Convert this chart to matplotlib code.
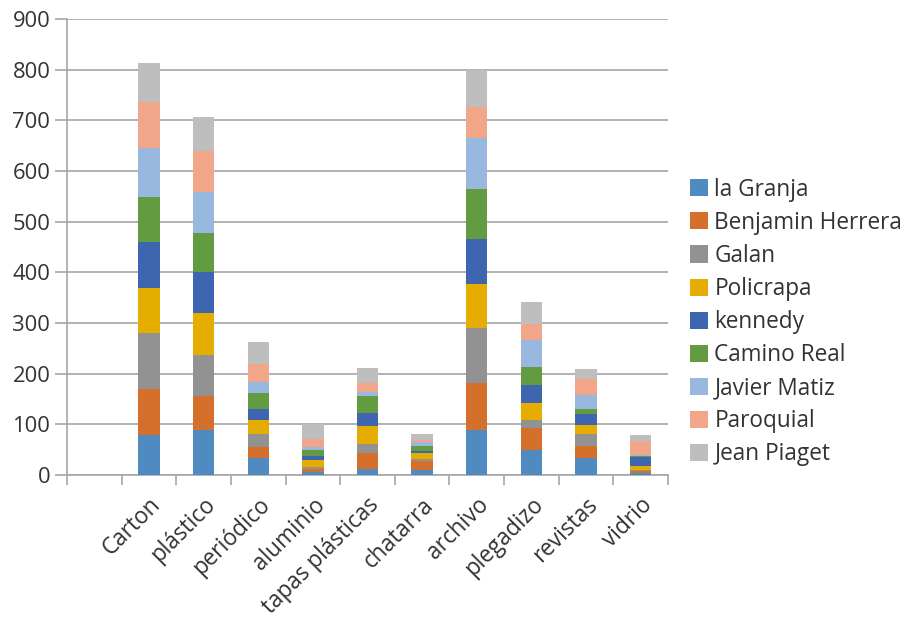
import numpy as np
import matplotlib
matplotlib.use("Agg")
import matplotlib.pyplot as plt

# first slot is empty in the source chart
categories = ["", "Carton", "plástico", "periódico", "aluminio", "tapas plásticas",
              "chatarra", "archivo", "plegadizo", "revistas", "vidrio"]

la_granja = [0, 78, 88, 33, 5, 11, 10, 88, 49, 33, 3]
benjamin_herrera = [0, 91, 68, 23, 7, 32, 18, 93, 44, 25, 4]
galan = [0, 111, 81, 24, 3, 19, 3, 110, 15, 22, 3]
policrapa = [0, 89, 82, 28, 15, 34, 12, 86, 35, 18, 7]
kennedy = [0, 90, 81, 22, 8, 26, 4, 88, 34, 23, 19]
camino_real = [0, 90, 78, 31, 11, 34, 10, 99, 36, 9, 1]
javier_matiz = [0, 97, 80, 23, 6, 7, 8, 101, 53, 28, 2]
paroquial = [0, 90, 82, 36, 16, 18, 4, 61, 32, 31, 29]
jean_piaget = [0, 77, 66, 42, 29, 30, 12, 74, 43, 20, 10]

series_names = ["la Granja", "Benjamin Herrera", "Galan", "Policrapa", "kennedy",
                "Camino Real", "Javier Matiz", "Paroquial", "Jean Piaget"]
series_values = [la_granja, benjamin_herrera, galan, policrapa, kennedy,
                 camino_real, javier_matiz, paroquial, jean_piaget]
colors = ["#4F8BC0", "#D4702B", "#929292", "#E5AD00", "#3E65AF",
          "#629B40", "#98B8DF", "#F1A68A", "#BEBEBE"]

plt.rcParams["font.family"] = ["Open Sans", "DejaVu Sans"]
text_col = "#333333"
axis_col = "#A6A6A6"

fig = plt.figure(figsize=(9.09, 6.21), dpi=100)
ax = fig.add_axes([67 / 909, 1 - 475 / 621, (668 - 67) / 909, (475 - 19) / 621])

x = np.arange(len(categories))
bottom = np.zeros(len(categories))
for name, vals, col in zip(series_names, series_values, colors):
    vals = np.array(vals, dtype=float)
    ax.bar(x, vals, width=0.39, bottom=bottom, color=col, label=name, zorder=3)
    bottom += vals

ax.set_xlim(-0.5, len(categories) - 0.5)
ax.set_ylim(0, 900)
ax.set_yticks(np.arange(0, 901, 100))
ax.yaxis.grid(True, color=axis_col, linewidth=1.2, zorder=0)

ax.set_xticks(x)
ax.set_xticklabels(categories, rotation=45, ha="right", va="top",
                   rotation_mode="anchor", fontsize=16.3, color=text_col)
ax.set_xticks(np.arange(-0.5, len(categories)), minor=True)
ax.tick_params(axis="x", which="major", length=0, pad=13)
ax.tick_params(axis="x", which="minor", length=7, color=axis_col, width=1.2)
ax.tick_params(axis="y", length=9, color=axis_col, width=1.2, pad=3,
               labelsize=15.8, labelcolor=text_col)

for side in ("top", "right"):
    ax.spines[side].set_visible(False)
for side in ("left", "bottom"):
    ax.spines[side].set_color(axis_col)
    ax.spines[side].set_linewidth(1.2)

ax.legend(loc="center left", bbox_to_anchor=(690 / 909, 1 - 322 / 621),
          bbox_transform=fig.transFigure, frameon=False, fontsize=16.3,
          handlelength=0.78, handleheight=0.78, handletextpad=0.3,
          labelspacing=0.4, borderpad=0, borderaxespad=0, labelcolor=text_col)

fig.savefig("out.png", dpi=100)
